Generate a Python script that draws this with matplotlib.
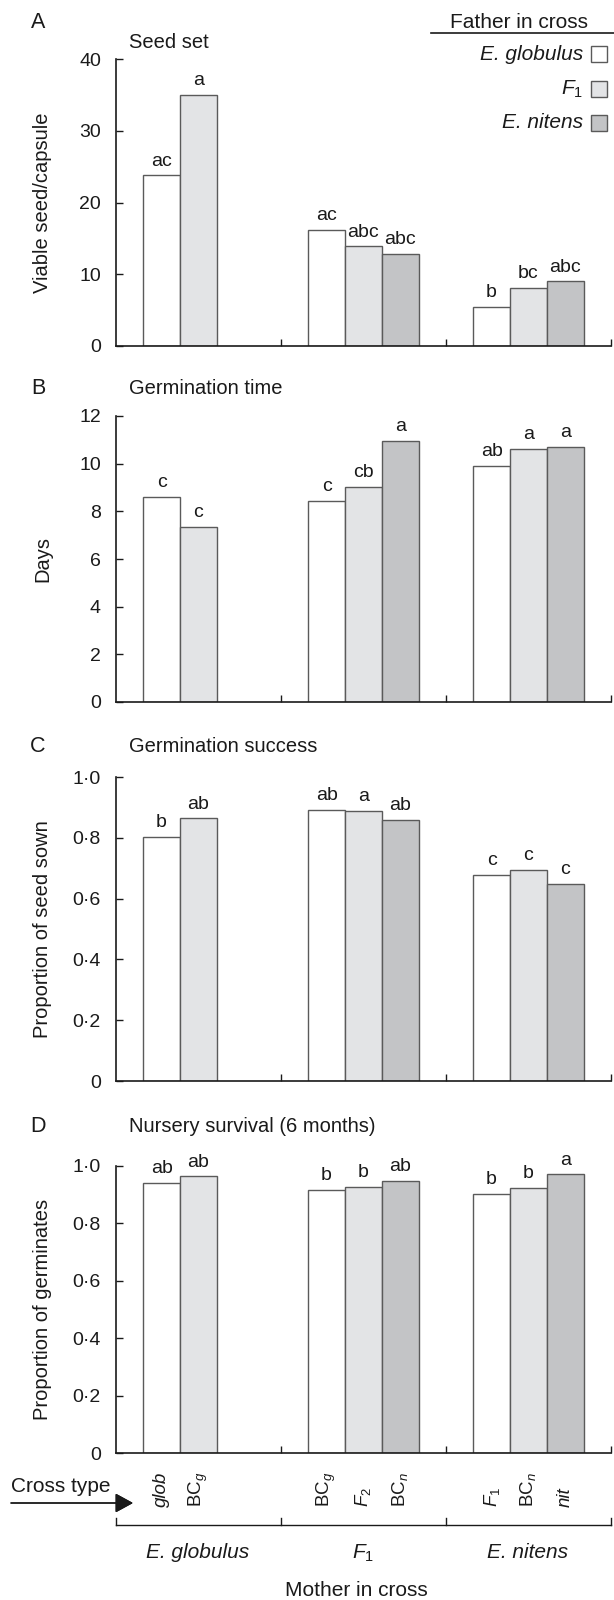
import matplotlib
matplotlib.use('Agg')
import matplotlib.pyplot as plt
from matplotlib.patches import Rectangle
from matplotlib.lines import Line2D

plt.rcParams['font.family'] = ['Liberation Sans', 'DejaVu Sans']
plt.rcParams['mathtext.fontset'] = 'custom'
plt.rcParams['mathtext.rm'] = 'Liberation Sans'
plt.rcParams['mathtext.it'] = 'Liberation Sans:italic'

# Datos: madre (grupo), padre (color) y valores por panel
madres = ['E. globulus', '$F_1$', 'E. nitens']
padres = ['E. globulus', '$F_1$', 'E. nitens']
grupo = [0, 0, 1, 1, 1, 2, 2, 2]
padre = [0, 1, 0, 1, 2, 0, 1, 2]
tipo_cruce = ['glob', 'BC$_g$', 'BC$_g$', '$F_2$', 'BC$_n$', '$F_1$', 'BC$_n$', 'nit']
tipo_italica = [True, False, False, False, False, False, False, True]

semilla = [23.8, 35.0, 16.2, 13.9, 12.8, 5.5, 8.15, 9.0]
semilla_letras = ['ac', 'a', 'ac', 'abc', 'abc', 'b', 'bc', 'abc']
germ_tiempo = [8.62, 7.35, 8.45, 9.02, 10.95, 9.9, 10.62, 10.72]
germ_tiempo_letras = ['c', 'c', 'c', 'cb', 'a', 'ab', 'a', 'a']
germ_exito = [0.803, 0.864, 0.893, 0.888, 0.860, 0.678, 0.695, 0.649]
germ_exito_letras = ['b', 'ab', 'ab', 'a', 'ab', 'c', 'c', 'c']
supervivencia = [0.942, 0.964, 0.916, 0.927, 0.949, 0.903, 0.924, 0.971]
supervivencia_letras = ['ab', 'ab', 'b', 'b', 'ab', 'b', 'b', 'a']

colores = ['#ffffff', '#e3e4e6', '#c3c4c6']
borde = '#5a5a5a'
negro = '#1a1a1a'

W, H = 614, 1600
fx = lambda x: x / W
fy = lambda y: 1 - y / H

fig = plt.figure(figsize=(W / 100, H / 100), dpi=100)

AX_L, AX_W = 115.5, 495
ANCHO = 0.223
OFFSET = 0.168

def dec(v):
    return '0' if v == 0 else f'{v:.1f}'.replace('.', '·')

# (letra, título, etiqueta Y, valores, letras, (arriba, abajo) del eje, y de letra, y de título, ymax, ticks, formato)
paneles = [
    ('A', 'Seed set', 'Viable seed/capsule', semilla, semilla_letras, (59, 346), 23, 43, 40,
     [0, 10, 20, 30, 40], str),
    ('B', 'Germination time', 'Days', germ_tiempo, germ_tiempo_letras, (416, 702), 389, 389, 12,
     [0, 2, 4, 6, 8, 10, 12], str),
    ('C', 'Germination success', 'Proportion of seed sown', germ_exito, germ_exito_letras, (777, 1081), 747, 746, 1.0,
     [0, 0.2, 0.4, 0.6, 0.8, 1.0], dec),
    ('D', 'Nursery survival (6 months)', 'Proportion of germinates', supervivencia, supervivencia_letras,
     (1166, 1453), 1127, 1127, 1.0, [0, 0.2, 0.4, 0.6, 0.8, 1.0], dec),
]

xs = [g + OFFSET + (s + 0.5) * ANCHO for g, s in zip(grupo, padre)]

for letra, titulo, ylab, valores, letras, (top, bot), y_letra, y_tit, ymax, ticks, fmt in paneles:
    ax = fig.add_axes([fx(AX_L), fy(bot), AX_W / W, (bot - top) / H])
    ax.bar(xs, valores, width=ANCHO, color=[colores[p] for p in padre],
           edgecolor=borde, linewidth=1.0, zorder=2)
    for x, v, l in zip(xs, valores, letras):
        ax.annotate(l, (x, v), xytext=(0, 7), textcoords='offset points',
                    ha='center', va='baseline', fontsize=14, color=negro)
    ax.set_xlim(0, 3)
    ax.set_ylim(0, ymax)
    ax.set_yticks(ticks)
    ax.set_yticklabels([fmt(t) for t in ticks])
    ax.set_xticks([1, 2, 3])
    ax.set_xticklabels([])
    ax.tick_params(axis='both', direction='in', length=5, width=1.0, color=negro)
    ax.tick_params(axis='y', labelsize=14, pad=10.5, labelcolor=negro)
    ax.spines[['top', 'right']].set_visible(False)
    for s in ['left', 'bottom']:
        ax.spines[s].set_linewidth(1.2)
        ax.spines[s].set_color(negro)

    fig.text(fx(38), fy(y_letra), letra, fontsize=15.5, ha='center', va='center', color=negro)
    fig.text(fx(129), fy(y_tit), titulo, fontsize=14.5, ha='left', va='center', color=negro)
    fig.text(fx(43), fy((top + bot) / 2), ylab, fontsize=14.5, rotation=90,
             ha='center', va='center', color=negro)

# Eje inferior: tipos de cruce y madres
tr = ax.get_xaxis_transform()
alto_d = 1453 - 1166
ay = lambda y: -(y - 1453) / alto_d
for x, t, it in zip(xs, tipo_cruce, tipo_italica):
    ax.text(x, ay(1507), t, rotation=90, ha='center', va='bottom', fontsize=13.5,
            style='italic' if it else 'normal', transform=tr, color=negro)

ax.add_line(Line2D([0, 3], [ay(1525), ay(1525)], transform=tr, color=negro, lw=1.0, clip_on=False))
for xb in [0, 1, 2, 3]:
    ax.add_line(Line2D([xb, xb], [ay(1525), ay(1518)], transform=tr, color=negro, lw=1.0, clip_on=False))
for i, m in enumerate(madres):
    ax.text(i + 0.5, ay(1553), m, ha='center', va='center', fontsize=15,
            style='italic', transform=tr, color=negro)
fig.text(fx(356), fy(1590), 'Mother in cross', fontsize=15, ha='center', va='center', color=negro)

fig.text(fx(11), fy(1487), 'Cross type', fontsize=15, ha='left', va='center', color=negro)
fig.add_artist(plt.annotate('', xy=(fx(133), fy(1503)), xytext=(fx(11), fy(1503)),
                            xycoords='figure fraction', textcoords='figure fraction',
                            arrowprops=dict(arrowstyle='-|>,head_length=1.1,head_width=0.6',
                                            mutation_scale=10, color=negro, lw=1.0,
                                            shrinkA=0, shrinkB=0)))

# Leyenda: padre en el cruce
fig.text(fx(519), fy(22), 'Father in cross', fontsize=15, ha='center', va='center', color=negro)
fig.add_artist(Line2D([fx(431), fx(614)], [fy(33), fy(33)], color=negro, lw=1.2))
for i, (p, yc) in enumerate(zip(padres, [54, 89, 123])):
    fig.text(fx(583), fy(yc), p, fontsize=15, ha='right', va='center',
             style='italic', color=negro)
    fig.add_artist(Rectangle((fx(591), fy(yc + 8)), 16 / W, 16 / H, transform=fig.transFigure,
                             facecolor=colores[i], edgecolor=borde, lw=1.0))

fig.savefig('out.png', dpi=100)
